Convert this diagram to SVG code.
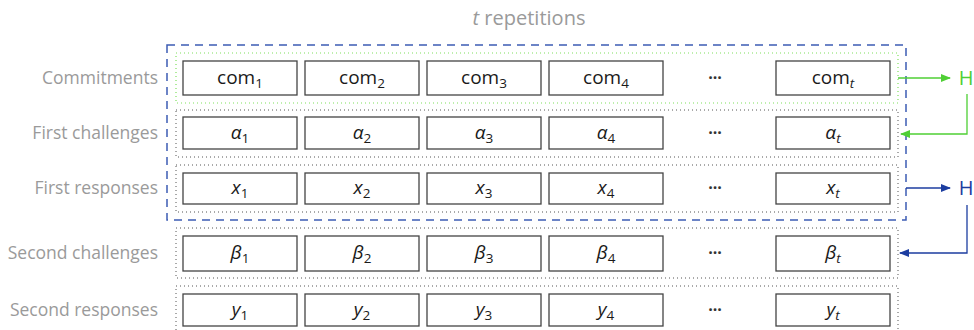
<svg xmlns="http://www.w3.org/2000/svg" width="974" height="330" viewBox="0 0 974 330">
<defs>
<style>
.lbl{font-family:"Open Sans","Noto Sans",sans-serif;font-size:17.5px;fill:#9a9a9a;text-anchor:end}
.box{fill:#fff;stroke:#444;stroke-width:1.3}
.t{font-family:"Open Sans","Noto Sans",sans-serif;font-size:19px;fill:#1a1a1a;text-anchor:middle}
.it{font-style:italic}
.sub{font-size:13.5px}
.row{fill:none;stroke:#555;stroke-width:1;stroke-dasharray:1 3}
.rowg{fill:none;stroke:#7ee05c;stroke-width:1.2;stroke-dasharray:1 3}
.dots{font-family:"Open Sans","Noto Sans",sans-serif;font-size:16px;fill:#333;text-anchor:middle;font-weight:bold}
.h{font-family:"Open Sans","Noto Sans",sans-serif;font-size:20px;text-anchor:middle}
</style>
<marker id="ag" markerWidth="10" markerHeight="8" refX="9" refY="4" orient="auto" markerUnits="userSpaceOnUse"><path d="M0,0 L10,4 L0,8 z" fill="#4fcf35"/></marker>
<marker id="ab" markerWidth="10" markerHeight="8" refX="9" refY="4" orient="auto" markerUnits="userSpaceOnUse"><path d="M0,0 L10,4 L0,8 z" fill="#1c3da0"/></marker>
</defs>
<rect width="974" height="330" fill="#fff"/>
<text x="529" y="25" style="font-family:'Open Sans','Noto Sans',sans-serif;font-size:20px;fill:#9a9a9a" text-anchor="middle"><tspan font-style="italic">t</tspan> repetitions</text>

<g id="frame">
<rect x="167" y="45" width="739" height="175" fill="none" stroke="#3d5cb4" stroke-width="1.5" stroke-dasharray="8 6"/>
</g>

<g id="rows">
<rect class="rowg" x="176" y="53" width="722" height="50"/>
<rect class="row" x="176" y="110" width="722" height="47"/>
<rect class="row" x="176" y="165" width="722" height="47"/>
<rect class="row" x="176" y="228" width="722" height="50"/>
<rect class="row" x="176" y="286" width="722" height="50"/>
</g>

<g id="labels">
<text class="lbl" x="158" y="84">Commitments</text>
<text class="lbl" x="158" y="139">First challenges</text>
<text class="lbl" x="158" y="194">First responses</text>
<text class="lbl" x="158" y="259">Second challenges</text>
<text class="lbl" x="158" y="316">Second responses</text>
</g>

<g id="row-com">
<rect class="box" x="183" y="61" width="114" height="34"/><text class="t" x="240" y="84">com<tspan class="sub" dy="4">1</tspan></text>
<rect class="box" x="305" y="61" width="114" height="34"/><text class="t" x="362" y="84">com<tspan class="sub" dy="4">2</tspan></text>
<rect class="box" x="427" y="61" width="114" height="34"/><text class="t" x="484" y="84">com<tspan class="sub" dy="4">3</tspan></text>
<rect class="box" x="549" y="61" width="114" height="34"/><text class="t" x="606" y="84">com<tspan class="sub" dy="4">4</tspan></text>
<text class="dots" x="715" y="83">···</text>
<rect class="box" x="776" y="61" width="114" height="34"/><text class="t" x="833" y="84">com<tspan class="sub it" dy="4">t</tspan></text>
</g>

<g id="row-alpha">
<rect class="box" x="183" y="117" width="114" height="32"/><text class="t" x="240" y="139"><tspan class="it">α</tspan><tspan class="sub" dy="4">1</tspan></text>
<rect class="box" x="305" y="117" width="114" height="32"/><text class="t" x="362" y="139"><tspan class="it">α</tspan><tspan class="sub" dy="4">2</tspan></text>
<rect class="box" x="427" y="117" width="114" height="32"/><text class="t" x="484" y="139"><tspan class="it">α</tspan><tspan class="sub" dy="4">3</tspan></text>
<rect class="box" x="549" y="117" width="114" height="32"/><text class="t" x="606" y="139"><tspan class="it">α</tspan><tspan class="sub" dy="4">4</tspan></text>
<text class="dots" x="715" y="138">···</text>
<rect class="box" x="776" y="117" width="114" height="32"/><text class="t" x="833" y="139"><tspan class="it">α</tspan><tspan class="sub it" dy="4">t</tspan></text>
</g>

<g id="row-x">
<rect class="box" x="183" y="173" width="114" height="31"/><text class="t" x="240" y="194"><tspan class="it">x</tspan><tspan class="sub" dy="4">1</tspan></text>
<rect class="box" x="305" y="173" width="114" height="31"/><text class="t" x="362" y="194"><tspan class="it">x</tspan><tspan class="sub" dy="4">2</tspan></text>
<rect class="box" x="427" y="173" width="114" height="31"/><text class="t" x="484" y="194"><tspan class="it">x</tspan><tspan class="sub" dy="4">3</tspan></text>
<rect class="box" x="549" y="173" width="114" height="31"/><text class="t" x="606" y="194"><tspan class="it">x</tspan><tspan class="sub" dy="4">4</tspan></text>
<text class="dots" x="715" y="193">···</text>
<rect class="box" x="776" y="173" width="114" height="31"/><text class="t" x="833" y="194"><tspan class="it">x</tspan><tspan class="sub it" dy="4">t</tspan></text>
</g>

<g id="row-beta">
<rect class="box" x="183" y="236" width="114" height="35"/><text class="t" x="240" y="259"><tspan class="it">β</tspan><tspan class="sub" dy="4">1</tspan></text>
<rect class="box" x="305" y="236" width="114" height="35"/><text class="t" x="362" y="259"><tspan class="it">β</tspan><tspan class="sub" dy="4">2</tspan></text>
<rect class="box" x="427" y="236" width="114" height="35"/><text class="t" x="484" y="259"><tspan class="it">β</tspan><tspan class="sub" dy="4">3</tspan></text>
<rect class="box" x="549" y="236" width="114" height="35"/><text class="t" x="606" y="259"><tspan class="it">β</tspan><tspan class="sub" dy="4">4</tspan></text>
<text class="dots" x="715" y="258">···</text>
<rect class="box" x="776" y="236" width="114" height="35"/><text class="t" x="833" y="259"><tspan class="it">β</tspan><tspan class="sub it" dy="4">t</tspan></text>
</g>

<g id="row-y">
<rect class="box" x="183" y="294" width="114" height="32"/><text class="t" x="240" y="316"><tspan class="it">y</tspan><tspan class="sub" dy="4">1</tspan></text>
<rect class="box" x="305" y="294" width="114" height="32"/><text class="t" x="362" y="316"><tspan class="it">y</tspan><tspan class="sub" dy="4">2</tspan></text>
<rect class="box" x="427" y="294" width="114" height="32"/><text class="t" x="484" y="316"><tspan class="it">y</tspan><tspan class="sub" dy="4">3</tspan></text>
<rect class="box" x="549" y="294" width="114" height="32"/><text class="t" x="606" y="316"><tspan class="it">y</tspan><tspan class="sub" dy="4">4</tspan></text>
<text class="dots" x="715" y="315">···</text>
<rect class="box" x="776" y="294" width="114" height="32"/><text class="t" x="833" y="316"><tspan class="it">y</tspan><tspan class="sub it" dy="4">t</tspan></text>
</g>

<g id="H1"><text class="h" x="966" y="85" fill="#4fcf35">H</text></g>
<g id="H2"><text class="h" x="966" y="195" fill="#1c3da0">H</text></g>

<g id="connectors" fill="none">
<line x1="898" y1="78" x2="950" y2="78" stroke="#4fcf35" stroke-width="1.3" marker-end="url(#ag)"/>
<polyline points="967,94 967,134 901,134" stroke="#4fcf35" stroke-width="1.3" marker-end="url(#ag)"/>
<line x1="906" y1="188" x2="950" y2="188" stroke="#1c3da0" stroke-width="1.3" marker-end="url(#ab)"/>
<polyline points="967,205 967,253 900,253" stroke="#1c3da0" stroke-width="1.3" marker-end="url(#ab)"/>
</g>
</svg>
